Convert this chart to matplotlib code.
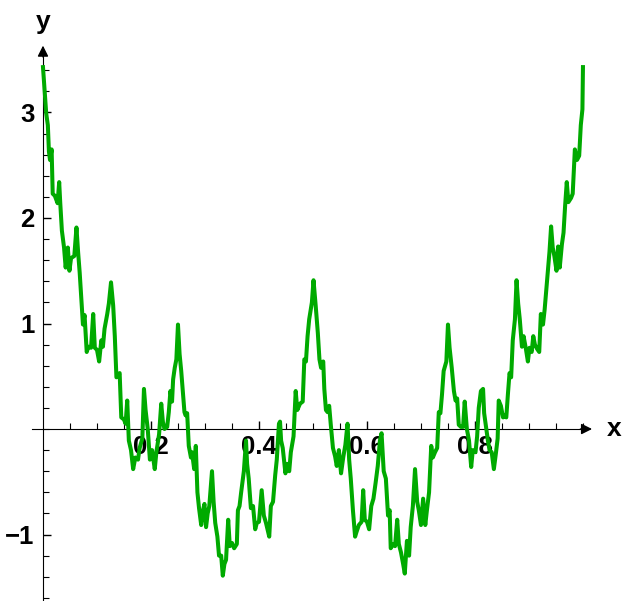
import matplotlib
matplotlib.use("Agg")
import matplotlib.pyplot as plt

# curve (x, y)
xs = [0.000, 0.006, 0.009, 0.011, 0.013, 0.016, 0.018, 0.022, 0.027, 0.030,
      0.032, 0.035, 0.039, 0.042, 0.046, 0.049, 0.052, 0.058, 0.062, 0.065,
      0.068, 0.071, 0.074, 0.077, 0.081, 0.084, 0.089, 0.093, 0.096, 0.100,
      0.104, 0.108, 0.111, 0.114, 0.119, 0.122, 0.126, 0.130, 0.133, 0.136,
      0.139, 0.142, 0.145, 0.150, 0.153, 0.156, 0.159, 0.163, 0.167, 0.171,
      0.176, 0.179, 0.184, 0.187, 0.190, 0.194, 0.198, 0.202, 0.207, 0.210,
      0.215, 0.219, 0.222, 0.225, 0.230, 0.233, 0.236, 0.239, 0.241, 0.244,
      0.247, 0.250, 0.253, 0.256, 0.259, 0.262, 0.264, 0.267, 0.270, 0.274,
      0.276, 0.280, 0.283, 0.286, 0.289, 0.293, 0.296, 0.299, 0.302, 0.305,
      0.308, 0.313, 0.316, 0.319, 0.323, 0.326, 0.330, 0.333, 0.336, 0.339,
      0.343, 0.346, 0.350, 0.354, 0.359, 0.361, 0.364, 0.367, 0.372, 0.376,
      0.378, 0.381, 0.385, 0.389, 0.393, 0.396, 0.400, 0.405, 0.409, 0.413,
      0.419, 0.422, 0.426, 0.430, 0.433, 0.437, 0.439, 0.441, 0.444, 0.449,
      0.452, 0.456, 0.459, 0.464, 0.468, 0.471, 0.476, 0.481, 0.484, 0.487,
      0.490, 0.493, 0.498, 0.501,
      0.505, 0.509, 0.512, 0.515, 0.519, 0.521, 0.524, 0.527, 0.530, 0.533,
      0.537, 0.541, 0.544, 0.548, 0.552, 0.556, 0.560, 0.564, 0.567, 0.570,
      0.574, 0.578, 0.581, 0.585, 0.590, 0.593, 0.596, 0.600, 0.604, 0.608,
      0.612, 0.616, 0.620, 0.624, 0.627, 0.631, 0.635, 0.639, 0.642, 0.644,
      0.648, 0.652, 0.656, 0.659, 0.663, 0.667, 0.670, 0.674, 0.678, 0.681,
      0.685, 0.689, 0.693, 0.696, 0.700, 0.704, 0.708, 0.711, 0.715, 0.719,
      0.722, 0.726, 0.730, 0.733, 0.736, 0.739, 0.742, 0.747, 0.750, 0.753,
      0.757, 0.761, 0.764, 0.767, 0.770, 0.774, 0.778, 0.781, 0.785, 0.789,
      0.793, 0.796, 0.801, 0.804, 0.807, 0.811, 0.815, 0.817, 0.820, 0.824,
      0.827, 0.831, 0.835, 0.839, 0.842, 0.844, 0.848, 0.852, 0.855, 0.858,
      0.861, 0.864, 0.867, 0.870, 0.874, 0.877, 0.880, 0.883, 0.887, 0.890,
      0.894, 0.898, 0.901, 0.905, 0.908, 0.911, 0.915, 0.919, 0.922, 0.926,
      0.929, 0.932, 0.935, 0.938, 0.941, 0.944, 0.947, 0.951, 0.954, 0.957,
      0.961, 0.964, 0.967, 0.970, 0.973, 0.978, 0.981, 0.985, 0.989, 0.993,
      0.996, 0.999, 1.000]
ys = [3.43, 2.99, 2.88, 2.63, 2.55, 2.65, 2.23, 2.21, 2.14, 2.34,
      2.14, 1.88, 1.72, 1.53, 1.72, 1.50, 1.62, 1.64, 1.91, 1.68,
      1.48, 1.24, 0.99, 1.08, 0.73, 0.78, 0.77, 1.09, 0.77, 0.75,
      0.64, 0.84, 0.78, 0.95, 1.09, 1.19, 1.39, 1.17, 0.88, 0.49,
      0.51, 0.53, 0.11, 0.09, 0.05, 0.27, -0.11, -0.20, -0.38, -0.27,
      -0.29, -0.18, -0.09, 0.38, 0.18, 0.00, -0.29, -0.20, -0.38, -0.22,
      -0.05, 0.24, 0.07, 0.00, 0.02, 0.16, 0.36, 0.26, 0.47, 0.58,
      0.66, 0.99, 0.71, 0.55, 0.36, 0.16, 0.13, 0.15, -0.16, -0.27,
      -0.22, -0.38, -0.16, -0.60, -0.75, -0.91, -0.78, -0.71, -0.93, -0.80,
      -0.73, -0.40, -0.69, -0.89, -1.02, -1.20, -1.20, -1.39, -1.28, -1.24,
      -0.86, -1.11, -1.08, -1.13, -1.09, -0.77, -0.73, -0.60, -0.40, -0.11,
      -0.33, -0.47, -0.75, -0.73, -0.95, -0.89, -0.88, -0.58, -0.82, -0.89,
      -1.02, -0.73, -0.69, -0.44, -0.29, 0.05, 0.07, -0.11, -0.18, -0.42,
      -0.33, -0.40, -0.22, -0.07, 0.36, 0.18, 0.24, 0.26, 0.66, 0.64,
      0.88, 1.04, 1.20, 1.41,
      1.17, 0.91, 0.66, 0.58, 0.64, 0.38, 0.18, 0.16, 0.22, 0.04,
      -0.18, -0.26, -0.35, -0.20, -0.42, -0.27, -0.15, 0.05, -0.29, -0.47,
      -0.77, -1.02, -0.97, -0.91, -0.88, -0.58, -0.86, -0.88, -0.95, -0.73,
      -0.66, -0.51, -0.35, -0.11, -0.04, -0.40, -0.47, -0.82, -0.77, -1.13,
      -1.09, -1.11, -0.86, -1.09, -1.17, -1.28, -1.37, -1.06, -1.20, -0.93,
      -0.73, -0.38, -0.69, -0.77, -0.91, -0.66, -0.91, -0.77, -0.60, -0.16,
      -0.27, -0.22, -0.18, 0.16, 0.15, 0.33, 0.55, 0.64, 0.99, 0.77,
      0.58, 0.36, 0.27, 0.29, 0.04, 0.02, 0.02, 0.26, 0.00, -0.11,
      -0.36, -0.20, -0.22, -0.07, 0.20, 0.36, 0.38, 0.15, 0.04, -0.11,
      -0.20, -0.22, -0.38, -0.22, -0.09, 0.27, 0.22, 0.11, 0.13, 0.11,
      0.33, 0.53, 0.49, 0.84, 1.04, 1.41, 1.19, 1.04, 0.78, 0.88,
      0.77, 0.64, 0.77, 0.73, 0.88, 0.80, 0.76, 0.73, 1.09, 0.99,
      1.13, 1.31, 1.50, 1.68, 1.92, 1.72, 1.64, 1.50, 1.73, 1.53,
      1.75, 1.86, 2.12, 2.34, 2.15, 2.19, 2.23, 2.65, 2.55, 2.59,
      2.88, 3.03, 3.43]

x_major = [0.2, 0.4, 0.6, 0.8]
x_labels = ['0.2', '0.4', '0.6', '0.8']
x_minor = [0.05 * i for i in range(1, 21)]
y_major = [-1, 1, 2, 3]
y_labels = ['\u22121', '1', '2', '3']
y_minor = [0.2 * i for i in range(-8, 18)]

plt.rcParams['font.family'] = ['Liberation Sans', 'DejaVu Sans']

fig = plt.figure(figsize=(6.24, 6.01), dpi=100)
ax = fig.add_axes([0, 0, 1, 1])
ax.set_xlim(-0.0796, 1.076)
ax.set_ylim(-1.630, 4.066)

ax.plot(xs, ys, color='#00AA00', lw=2.9, zorder=3)

# axes through the origin, Mathematica style
for s in ['top', 'right']:
    ax.spines[s].set_visible(False)
ax.spines['left'].set_position(('data', 0))
ax.spines['bottom'].set_position(('data', 0))
ax.spines['bottom'].set_bounds(-0.02, 1.0)
ax.spines['left'].set_bounds(-1.64, 3.55)
ax.annotate('', xy=(1.022, 0), xytext=(0.99, 0),
            arrowprops=dict(arrowstyle='-|>', color='black', lw=1, mutation_scale=16))
ax.annotate('', xy=(0, 3.66), xytext=(0, 3.5),
            arrowprops=dict(arrowstyle='-|>', color='black', lw=1, mutation_scale=16))

ax.set_xticks(x_major)
ax.set_xticklabels(x_labels)
ax.set_xticks(x_minor, minor=True)
ax.set_yticks(y_major)
ax.set_yticklabels(y_labels)
ax.set_yticks(y_minor, minor=True)
ax.tick_params(which='major', direction='in', length=6, width=1, labelsize=18.5, pad=4)
ax.tick_params(which='minor', direction='in', length=4, width=0.8)
ax.tick_params(axis='y', which='major', pad=6)
for lbl in ax.get_xticklabels() + ax.get_yticklabels():
    lbl.set_fontweight('bold')

ax.text(1.057, 0, 'x', fontsize=19, fontweight='bold', ha='center', va='center')
ax.text(0, 3.86, 'y', fontsize=19, fontweight='bold', ha='center', va='center')

fig.savefig('out.png', dpi=100)
